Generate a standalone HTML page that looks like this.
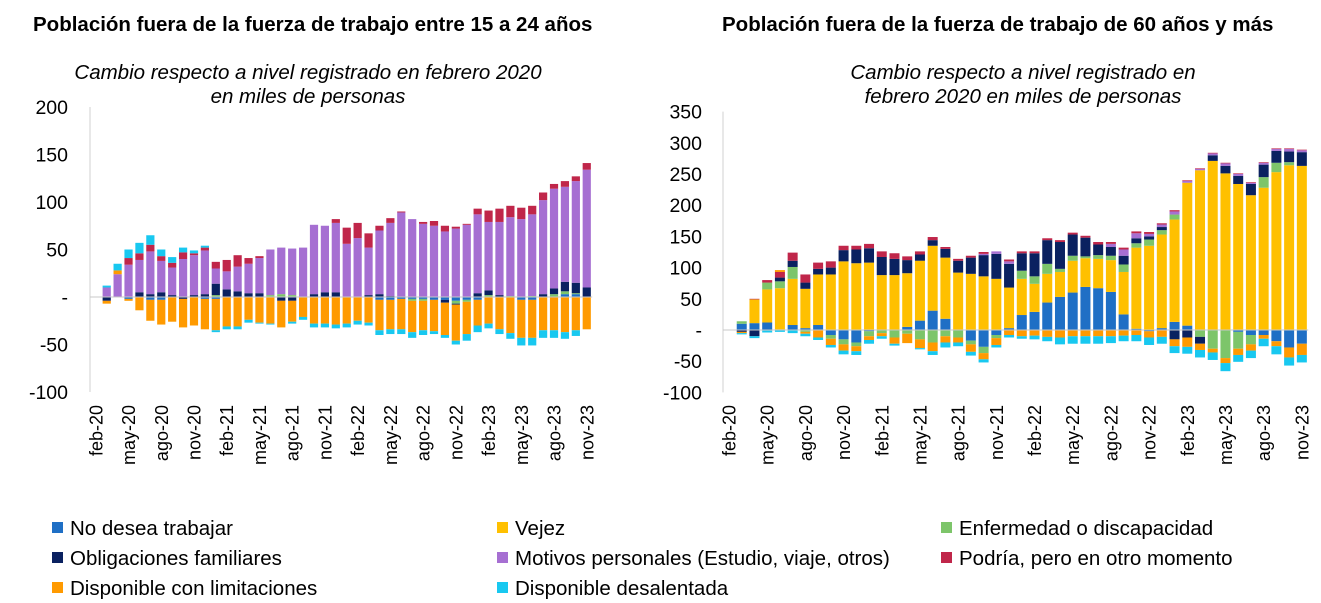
<!DOCTYPE html>
<html><head><meta charset="utf-8">
<style>
html,body{margin:0;padding:0;background:#fff;}
svg{display:block;font-family:"Liberation Sans",Arial,sans-serif;}
</style></head>
<body>
<svg id="chart" width="1321" height="603" viewBox="0 0 1321 603" xmlns="http://www.w3.org/2000/svg">
<text x="33" y="31" font-size="20.5" font-weight="bold" fill="#000">Población fuera de la fuerza de trabajo entre 15 a 24 años</text>
<text x="722" y="31" font-size="20.5" font-weight="bold" fill="#000">Población fuera de la fuerza de trabajo de 60 años y más</text>
<text x="308" y="79" font-size="20.5" font-style="italic" text-anchor="middle">Cambio respecto a nivel registrado en febrero 2020</text>
<text x="308" y="103" font-size="20.5" font-style="italic" text-anchor="middle">en miles de personas</text>
<text x="1023" y="79" font-size="20.5" font-style="italic" text-anchor="middle">Cambio respecto a nivel registrado en</text>
<text x="1023" y="103" font-size="20.5" font-style="italic" text-anchor="middle">febrero 2020 en miles de personas</text>
<g id="left"></g>
<g id="right"></g>
<g id="legend"></g>
</svg>
<script>
const months = ["feb-20","mar-20","abr-20","may-20","jun-20","jul-20","ago-20","sep-20","oct-20","nov-20","dic-20","ene-21","feb-21","mar-21","abr-21","may-21","jun-21","jul-21","ago-21","sep-21","oct-21","nov-21","dic-21","ene-22","feb-22","mar-22","abr-22","may-22","jun-22","jul-22","ago-22","sep-22","oct-22","nov-22","dic-22","ene-23","feb-23","mar-23","abr-23","may-23","jun-23","jul-23","ago-23","sep-23","oct-23","nov-23"];
const seriesNames = ["No desea trabajar","Vejez","Enfermedad o discapacidad","Obligaciones familiares","Motivos personales (Estudio, viaje, otros)","Podría, pero en otro momento","Disponible con limitaciones","Disponible desalentada"];
const seriesColors = ["#1f6fc5","#ffc000","#7dc56a","#0a2160","#a66fd2","#c0264a","#ff9a00","#18c8f0"];
const leftTicks = [200,150,100,50,0,-50,-100];
const rightTicks = [350,300,250,200,150,100,50,0,-50,-100];

// Left chart (15 a 24 años)
const L_blue = [0,0,0,-2,0,-3,-3,0,0,0,-2,-2,0,0,0,0,0,0,0,0,0,0,0,0,0,0,-3,-3,-2,-2,-2,-3,-3,-4,-3,-3,0,0,0,-3,-3,0,0,3,3,0];
const L_yellow = [0,0,0,0,0,0,0,0,0,0,0,0,0,0,0,0,0,0,0,0,0,0,0,0,0,0,0,0,0,0,0,0,0,0,0,0,0,0,0,0,0,0,0,0,0,0];
const L_green = [0,0,0,0,0,0,0,0,0,0,0,2,0,0,0,0,2,3,2,0,0,0,0,0,0,0,0,0,0,-2,-2,0,0,-3,-2,0,2,0,1,0,1,0,3,3,1,0];
const L_navy = [0,-4,0,0,5,3,5,2,-2,2,3,12,8,6,4,4,0,-4,-4,0,3,5,5,0,0,2,3,1,0,0,0,0,-3,-1,0,4,5,2,0,0,0,3,6,10,11,10];
const L_purple = [0,10,24,34,34,45,33,29,40,42,46,16,19,26,31,37,48,49,49,52,73,70,73,56,62,50,67,77,89,82,77,75,69,72,76,83,72,77,83,82,86,99,105,100,107,124];
const L_red = [0,0,0,7,7,7,5,5,7,2,3,7,12,12,6,2,0,0,0,0,0,0,4,17,16,15,5,5,1,0,2,5,6,2,1,6,12,14,12,12,9,8,5,6,5,7];
const L_orange = [0,-3,4,-2,-14,-22,-26,-26,-30,-30,-32,-33,-31,-31,-24,-27,-28,-28,-22,-21,-28,-28,-29,-28,-25,-27,-32,-31,-32,-33,-31,-33,-34,-38,-34,-27,-28,-34,-38,-40,-40,-35,-35,-37,-35,-34];
const L_cyan = [0,2,7,9,11,10,7,6,5,3,2,-2,-3,-3,-3,-1,-1,0,-2,-3,-4,-4,-4,-4,-4,-3,-5,-5,-5,-6,-5,-3,-3,-4,-7,-7,-5,-5,-6,-8,-8,-8,-8,-7,-6,0];

// Right chart (60 años y más)
const R_blue = [0,10,11,12,1,8,3,8,-8,-15,-20,-2,0,0,5,15,31,18,0,-17,-27,-8,3,24,29,44,53,60,69,67,61,25,2,-2,3,13,7,0,0,0,-3,-8,-8,-18,-28,-22];
const R_yellow = [0,0,38,53,66,74,63,81,89,110,107,108,88,88,86,96,104,98,92,90,86,82,65,58,45,46,40,51,46,47,51,68,130,135,150,164,229,256,271,251,234,216,228,253,264,263];
const R_green = [0,4,0,11,11,19,-3,0,-6,-8,-6,-8,-5,-12,-6,-15,-20,-10,-12,-6,-10,-5,0,13,12,16,5,8,3,6,7,12,7,10,7,8,0,-11,-30,-45,-27,-15,17,15,5,0];
const R_navy = [0,-3,-10,-1,6,10,10,9,11,18,22,23,29,26,21,10,9,14,19,26,34,40,38,28,37,38,43,34,30,17,14,14,8,5,5,-15,-12,-11,9,12,13,18,20,19,17,22];
const R_purple = [0,0,0,0,0,0,0,0,0,0,0,0,0,0,0,0,0,0,0,0,2,4,4,0,0,0,0,0,0,0,5,10,8,4,4,5,3,2,3,4,3,2,3,3,4,3];
const R_red = [0,0,1,4,9,13,13,10,10,7,6,7,9,9,6,5,5,3,3,3,3,0,3,3,3,3,3,3,3,4,3,3,3,3,2,2,1,1,1,1,1,1,1,1,1,1];
const R_orange = [0,-2,0,0,3,0,-3,-12,-10,-10,-8,-6,-5,-10,-15,-14,-14,-10,-8,-12,-10,-11,-8,-10,-9,-11,-12,-10,-10,-10,-10,-9,-8,-10,-11,-11,-15,-10,-6,-8,-10,-10,-6,-8,-16,-18];
const R_cyan = [0,-2,-3,-3,-3,-5,-4,-4,-4,-6,-6,-6,-4,-3,0,-2,-6,-8,-6,-6,-5,-4,-4,-4,-6,-7,-11,-12,-12,-12,-11,-9,-10,-12,-11,-11,-11,-12,-12,-13,-11,-12,-12,-13,-13,-12];

const NS = "http://www.w3.org/2000/svg";
function mk(tag, attrs, parent){
  const e = document.createElementNS(NS, tag);
  for (const k in attrs) e.setAttribute(k, attrs[k]);
  parent.appendChild(e);
  return e;
}

function drawChart(g, cfg, series, ticks, prefix){
  const yScale = v => cfg.zeroY - v * cfg.pxPerUnit;
  const xScale = i => cfg.x0 + i * cfg.step;
  const ax = mk("line", {x1:cfg.axisX, x2:cfg.axisX, y1:yScale(ticks[0]), y2:yScale(ticks[ticks.length-1]), stroke:"#d0d0d0", "stroke-width":1}, g);
  
  
  ticks.forEach(t => {
    const tx = mk("text", {x:cfg.labelX, y:yScale(t)+7, "font-size":19.5, "text-anchor":"end", fill:"#000"}, g);
    tx.textContent = t === 0 ? "-" : String(t);
    
    
  });
  for (let i = 0; i < months.length; i++){
    let pos = 0, neg = 0;
    series.forEach((arr, s) => {
      const v = arr[i];
      if (!v) return;
      let y0, y1;
      if (v > 0){ y0 = yScale(pos + v); y1 = yScale(pos); pos += v; }
      else { y0 = yScale(neg); y1 = yScale(neg + v); neg += v; }
      const r = mk("rect", {x:xScale(i)-cfg.barW/2, y:y0, width:cfg.barW, height:Math.max(0.5, y1-y0), fill:seriesColors[s]}, g);
      
      
    });
  }
  const z = mk("line", {x1:cfg.axisX, x2:xScale(months.length-1)+cfg.step/2, y1:yScale(0), y2:yScale(0), stroke:"#c8c8c8", "stroke-width":1}, g);
  
  
  for (let i = 0; i < months.length; i += 3){
    const x = xScale(i) + 6.5;
    const t = mk("text", {x:0, y:0, "font-size":18, "text-anchor":"end", transform:"translate(" + x + "," + cfg.xLabelTop + ") rotate(-90)"}, g);
    t.textContent = months[i];
    
    
  }
}

drawChart(document.getElementById("left"),
  {x0:95.8, step:10.91, barW:8.2, zeroY:297, pxPerUnit:0.95, axisX:90, labelX:68, xLabelTop:405},
  [L_blue,L_yellow,L_green,L_navy,L_purple,L_red,L_orange,L_cyan], leftTicks, "left");
drawChart(document.getElementById("right"),
  {x0:729, step:12.73, barW:10, zeroY:330, pxPerUnit:0.624, axisX:723, labelX:702, xLabelTop:405},
  [R_blue,R_yellow,R_green,R_navy,R_purple,R_red,R_orange,R_cyan], rightTicks, "right");

const lg = document.getElementById("legend");
const legendOrder = [0,1,2,3,4,5,6,7];
const colX = [52,497,941];
const rowY = [528,558,588];
legendOrder.forEach((s, k) => {
  const cx = colX[k % 3], cy = rowY[Math.floor(k / 3)];
  const sw = mk("rect", {x:cx, y:cy-6, width:11, height:11, fill:seriesColors[s]}, lg);
  
  
  const t = mk("text", {x:cx+18, y:cy+7, "font-size":20.5, fill:"#000"}, lg);
  t.textContent = seriesNames[s];
  
  
});
</script>
</body></html>
